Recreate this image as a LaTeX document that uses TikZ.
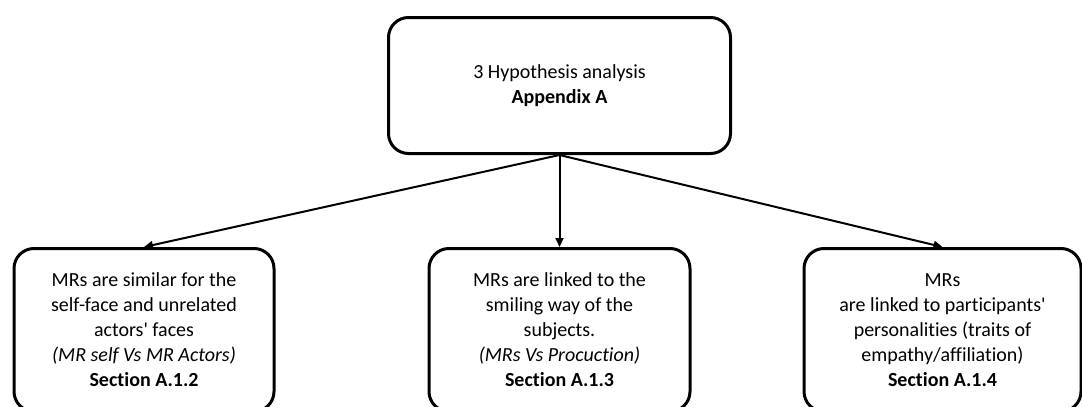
\documentclass[tikz,border=0pt]{standalone}
\usepackage{fontspec}
\setmainfont{Carlito}[Ligatures={NoCommon}]
\usepackage{tikz}
\usetikzlibrary{positioning, arrows.meta}

\begin{document}
\begin{tikzpicture}[x=1pt, y=-1pt,
            block/.style={rectangle, rounded corners=20pt, draw, line width=3pt, align=center,
                          font=\fontsize{20}{25}\selectfont, inner sep=1pt},
            link/.style={-{Triangle[length=9pt, width=8pt]}, line width=2pt}
        ]
            \useasboundingbox (0,0) rectangle (1082,407);

            % Top box
            \node[block, minimum width=342pt, minimum height=136pt] (hyp) at (559.5,85.5) {3 Hypothesis analysis \\ \textbf{Appendix A}};

            % Hypotheses
            \node[block, minimum width=261pt, minimum height=163pt, below=92pt of hyp] (sec3) {MRs are linked to the \\ smiling way of the \\ subjects. \\ \textit{(MRs Vs Procuction)} \\ \textbf{Section A.1.3}};
            \node[block, minimum width=260pt, minimum height=163pt, left=152pt of sec3] (sec2) {MRs are similar for the \\ self-face and unrelated \\ actors\textquotesingle{} faces \\ \textit{(MR self Vs MR Actors)} \\ \textbf{Section A.1.2}};
            \node[block, minimum width=277pt, minimum height=163pt, right=111pt of sec3] (sec4) {MRs \\ are linked to participants\textquotesingle \\ personalities (traits of \\ empathy/affiliation) \\ \textbf{Section A.1.4}};

            % Arrows
            \draw[link] (hyp.south) -- (sec2.north);
            \draw[link] (hyp.south) -- (sec3.north);
            \draw[link] (hyp.south) -- (sec4.north);
\end{tikzpicture}
\end{document}
